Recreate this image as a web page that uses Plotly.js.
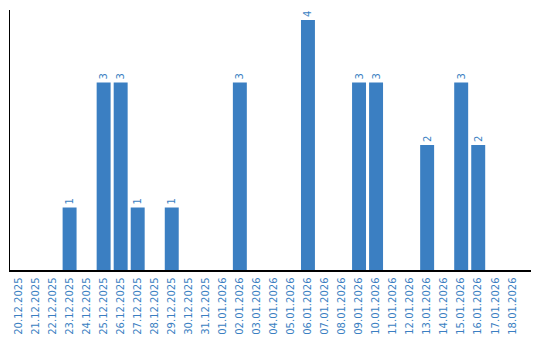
<!DOCTYPE html>
<html><head><meta charset="utf-8">
<script src="https://cdn.plot.ly/plotly-3.0.1.min.js"></script>
<style>html,body{margin:0;padding:0;background:#fff}</style>
</head><body><div id="chart" style="width:540px;height:340px"></div>
<script>
const dates = ["20.12.2025","21.12.2025","22.12.2025","23.12.2025","24.12.2025","25.12.2025","26.12.2025","27.12.2025","28.12.2025","29.12.2025","30.12.2025","31.12.2025","01.01.2026","02.01.2026","03.01.2026","04.01.2026","05.01.2026","06.01.2026","07.01.2026","08.01.2026","09.01.2026","10.01.2026","11.01.2026","12.01.2026","13.01.2026","14.01.2026","15.01.2026","16.01.2026","17.01.2026","18.01.2026"];
const counts = [0,0,0,1,0,3,3,1,0,1,0,0,0,3,0,0,0,4,0,0,3,3,0,0,2,0,3,2,0,0];
const labels = counts.map(v => v > 0 ? String(v) : "");
const blue = "#3b7fc2";
Plotly.newPlot("chart", [{
  type: "bar", x: dates, y: counts,
  marker: {color: blue},
  text: labels, textposition: "outside", textangle: -90,
  textfont: {family: "DejaVu Sans", size: 10, color: blue},
  cliponaxis: false, hoverinfo: "none"
}], {
  width: 540, height: 340,
  margin: {l: 10, r: 9, t: 10, b: 70},
  paper_bgcolor: "#fff", plot_bgcolor: "#fff",
  bargap: 0.18,
  showlegend: false,
  xaxis: {type: "category", range: [-0.5, 30.1], showline: true, linecolor: "#000", linewidth: 1.5,
    tickangle: -90, ticks: "outside", ticklen: 2, tickcolor: "rgba(0,0,0,0)", showgrid: false, zeroline: false,
    tickfont: {family: "DejaVu Sans", size: 10, color: blue}},
  yaxis: {range: [0, 4.16], showline: true, linecolor: "#000", linewidth: 1.5,
    showticklabels: false, ticks: "", showgrid: false, zeroline: false}
}, {displayModeBar: false, staticPlot: true});
</script></body></html>
